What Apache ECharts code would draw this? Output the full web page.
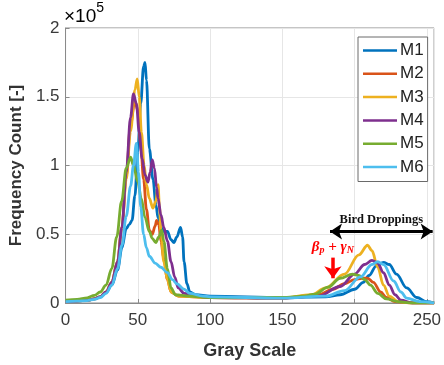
<!DOCTYPE html>
<html>
<head>
<meta charset="utf-8">
<script src="https://cdn.jsdelivr.net/npm/echarts@6/dist/echarts.min.js"></script>
<style>html,body{margin:0;padding:0;background:#fff}#c{width:444px;height:365px}</style>
</head>
<body>
<div id="c"></div>
<script>
// Frequency counts in units of 1e5, keyed by gray level
const seriesNames = ['M1', 'M2', 'M3', 'M4', 'M5', 'M6'];
const M1 = [[0,0.01],[8,0.014],[15,0.02],[20,0.03],[24,0.045],[28,0.075],[32,0.13],[36,0.24],[39,0.4],[42,0.54],[44,0.57],[46,0.6],[48,0.78],[50,1.1],[52,1.45],[54,1.72],[55,1.75],[56,1.62],[58,1.12],[60.5,0.9],[62.6,0.71],[64,0.62],[66,0.55],[68,0.52],[70.5,0.52],[73,0.46],[75,0.44],[77,0.48],[79.6,0.55],[81,0.48],[82,0.3],[84,0.14],[86,0.08],[90,0.06],[100,0.05],[150,0.04],[180,0.045],[190,0.06],[200,0.1],[206,0.15],[210,0.2],[215,0.27],[220,0.295],[224,0.28],[229,0.21],[236,0.11],[243,0.04],[250,0.01],[255,0]];
const M2 = [[0,0.01],[8,0.014],[15,0.02],[20,0.03],[24,0.045],[28,0.08],[32,0.15],[36,0.3],[39,0.55],[42,0.92],[45,1.3],[48,1.47],[50,1.4],[52,1.15],[54,0.9],[56,0.68],[58,0.53],[60,0.5],[62,0.56],[63,0.6],[64.5,0.57],[66,0.45],[68,0.32],[70.5,0.17],[73,0.08],[78,0.05],[100,0.04],[150,0.035],[175,0.06],[185,0.1],[193,0.14],[200,0.17],[205,0.18],[209,0.18],[213,0.15],[218,0.08],[222,0.04],[228,0.01],[240,0],[255,0]];
const M3 = [[0,0.01],[8,0.014],[15,0.02],[20,0.03],[24,0.045],[28,0.08],[32,0.15],[36,0.3],[39,0.55],[42,0.9],[45,1.25],[48,1.55],[49.6,1.63],[51,1.5],[52.5,1.24],[54.4,1.0],[56,0.86],[58,0.76],[60.5,0.69],[62.5,0.74],[64,0.86],[65,0.7],[66,0.52],[68,0.3],[70.5,0.17],[73,0.08],[78,0.05],[100,0.04],[150,0.035],[170,0.06],[180,0.11],[193,0.21],[203,0.35],[209,0.42],[212,0.38],[216,0.26],[220,0.13],[224,0.05],[230,0.01],[240,0],[255,0]];
const M4 = [[0,0.01],[8,0.014],[15,0.02],[20,0.03],[24,0.045],[28,0.08],[32,0.15],[36,0.3],[39,0.55],[42,0.95],[45,1.35],[47,1.52],[49,1.45],[51,1.24],[53,1.05],[55,0.93],[57,0.88],[58.5,0.95],[60,1.04],[61.5,0.98],[63,0.84],[64,0.76],[66,0.64],[68,0.55],[70.5,0.45],[73,0.3],[75.5,0.19],[78,0.11],[82,0.07],[90,0.05],[100,0.04],[150,0.035],[175,0.05],[190,0.12],[200,0.21],[207,0.28],[212,0.31],[216,0.29],[220,0.22],[224,0.13],[228,0.06],[232,0.02],[240,0],[255,0]];
const M5 = [[0,0.02],[8,0.026],[15,0.038],[20,0.055],[24,0.08],[28,0.13],[32,0.25],[35.4,0.48],[38.8,0.74],[42,0.98],[45,1.06],[47,1.0],[50,0.88],[52.4,0.76],[55,0.62],[58,0.52],[60,0.47],[62.5,0.44],[64.5,0.48],[66.5,0.53],[68,0.45],[70.5,0.25],[73,0.11],[76,0.06],[85,0.05],[100,0.04],[150,0.04],[165,0.05],[172.7,0.065],[181.6,0.115],[190,0.18],[198.6,0.21],[203,0.2],[207,0.17],[211,0.13],[216,0.07],[222,0.03],[230,0.01],[240,0],[255,0]];
const M6 = [[0,0.01],[8,0.013],[15,0.018],[20,0.027],[24,0.04],[28,0.07],[32,0.13],[36,0.25],[39,0.42],[42,0.63],[45,0.85],[47,1.0],[49,1.16],[50.5,0.95],[52,0.7],[54,0.5],[56,0.4],[58,0.34],[62,0.29],[66,0.26],[70.5,0.22],[74,0.17],[77,0.14],[82,0.1],[86,0.07],[95,0.05],[100,0.045],[150,0.035],[180,0.05],[193,0.09],[204,0.19],[212,0.28],[216,0.3],[220,0.28],[227,0.16],[232,0.08],[236,0.035],[245,0.01],[255,0]];
const seriesData = [M1, M2, M3, M4, M5, M6];
const colors = ['#0072BD', '#D95319', '#EDB120', '#7E2F8E', '#77AC30', '#4DBEEE'];
const xTicks = [0, 50, 100, 150, 200, 250];
const yTicks = [0, 0.5, 1, 1.5, 2];
// annotation spans (gray level, count/1e5)
const birdSpan = [[183, 0.52], [254, 0.52]];
const betaArrow = [[185, 0.33], [185, 0.18]];

const font = 'Liberation Sans, Arial, Helvetica, sans-serif';
const chart = echarts.init(document.getElementById('c'), null, {renderer: 'canvas'});

const series = seriesNames.map((n, i) => ({
  name: n, type: 'line', data: seriesData[i], showSymbol: false, symbol: 'none',
  smooth: 0.35, smoothMonotone: 'x',
  lineStyle: {color: colors[i], width: 2.8}, itemStyle: {color: colors[i]},
  emphasis: {disabled: true}, animation: false
}));
series.push({
  name: 'annot', type: 'line', data: [], animation: false,
  markLine: {
    silent: true, animation: false,
    data: [
      [{coord: birdSpan[0], symbol: 'arrow', symbolSize: [12, 12],
        lineStyle: {color: '#000', width: 3, type: 'solid'},
        label: {show: true, position: 'middle', distance: 5, formatter: 'Bird Droppings',
          fontFamily: 'Liberation Serif, Times New Roman, serif', fontWeight: 'bold', fontSize: 12.5, color: '#111'}},
       {coord: birdSpan[1], symbol: 'arrow', symbolSize: [12, 12]}],
      [{coord: betaArrow[0], symbol: 'none',
        lineStyle: {color: '#ff0000', width: 3.5, type: 'solid'},
        label: {show: true, position: 'start', distance: 2,
          formatter: '{a|β}{s|p}{a| + γ}{s|N}',
          rich: {
            a: {fontFamily: 'Liberation Serif, serif', fontStyle: 'italic', fontWeight: 'bold', fontSize: 15, color: '#ff0000', lineHeight: 18, verticalAlign: 'middle'},
            s: {fontFamily: 'Liberation Serif, serif', fontStyle: 'italic', fontWeight: 'bold', fontSize: 10, color: '#ff0000', verticalAlign: 'bottom'}
          }}},
       {coord: betaArrow[1], symbol: 'arrow', symbolSize: [13, 12]}]
    ]
  }
});

chart.setOption({
  animation: false,
  backgroundColor: '#fff',
  color: colors,
  grid: {left: 63, right: 7, top: 28, bottom: 59, show: true, borderColor: '#8a8a8a', borderWidth: 1, backgroundColor: 'transparent'},
  legend: {
    data: seriesNames, orient: 'vertical', left: 358, top: 37,
    icon: 'rect', itemWidth: 34, itemHeight: 2.5, itemGap: 6.3,
    padding: [5, 4, 6, 5],
    borderColor: '#6a6a6a', borderWidth: 1, backgroundColor: '#fff',
    textStyle: {fontFamily: font, fontSize: 17, color: '#222', lineHeight: 17, height: 17, padding: [0, 0, 0, -2]},
    selectedMode: false
  },
  xAxis: {
    type: 'value', min: 0, max: 255, interval: 50,
    name: 'Gray Scale', nameLocation: 'middle', nameGap: 39,
    nameTextStyle: {fontFamily: font, fontSize: 18, fontWeight: 'bold', color: '#333'},
    axisLine: {show: true, onZero: false, lineStyle: {color: '#8a8a8a', width: 1}},
    axisTick: {show: true, inside: true, length: 4, lineStyle: {color: '#8a8a8a'}},
    axisLabel: {fontFamily: font, fontSize: 17, color: '#3a3a3a', margin: 9, showMaxLabel: false,
      formatter: v => xTicks.includes(v) ? String(v) : ''},
    splitLine: {show: true, lineStyle: {color: '#e6e6e6', width: 1}}
  },
  yAxis: {
    type: 'value', min: 0, max: 2, interval: 0.5,
    name: 'Frequency Count [-]', nameLocation: 'middle', nameGap: 38,
    nameTextStyle: {fontFamily: font, fontSize: 17, fontWeight: 'bold', color: '#333'},
    axisLine: {show: true, lineStyle: {color: '#8a8a8a', width: 1}},
    axisTick: {show: true, inside: true, length: 4, lineStyle: {color: '#8a8a8a'}},
    axisLabel: {fontFamily: font, fontSize: 17, color: '#3a3a3a', margin: 6,
      formatter: v => yTicks.includes(v) ? String(v) : ''},
    splitLine: {show: true, lineStyle: {color: '#e6e6e6', width: 1}}
  },
  graphic: [{
    type: 'text', left: 64, top: 1, silent: true,
    style: {
      text: '{a|×10}{b|5}',
      rich: {
        a: {fontFamily: font, fontSize: 19, color: '#3a3a3a', lineHeight: 25, verticalAlign: 'bottom'},
        b: {fontFamily: font, fontSize: 14, color: '#3a3a3a', verticalAlign: 'top'}
      }
    }
  }],
  series: series
});
</script>
</body>
</html>
